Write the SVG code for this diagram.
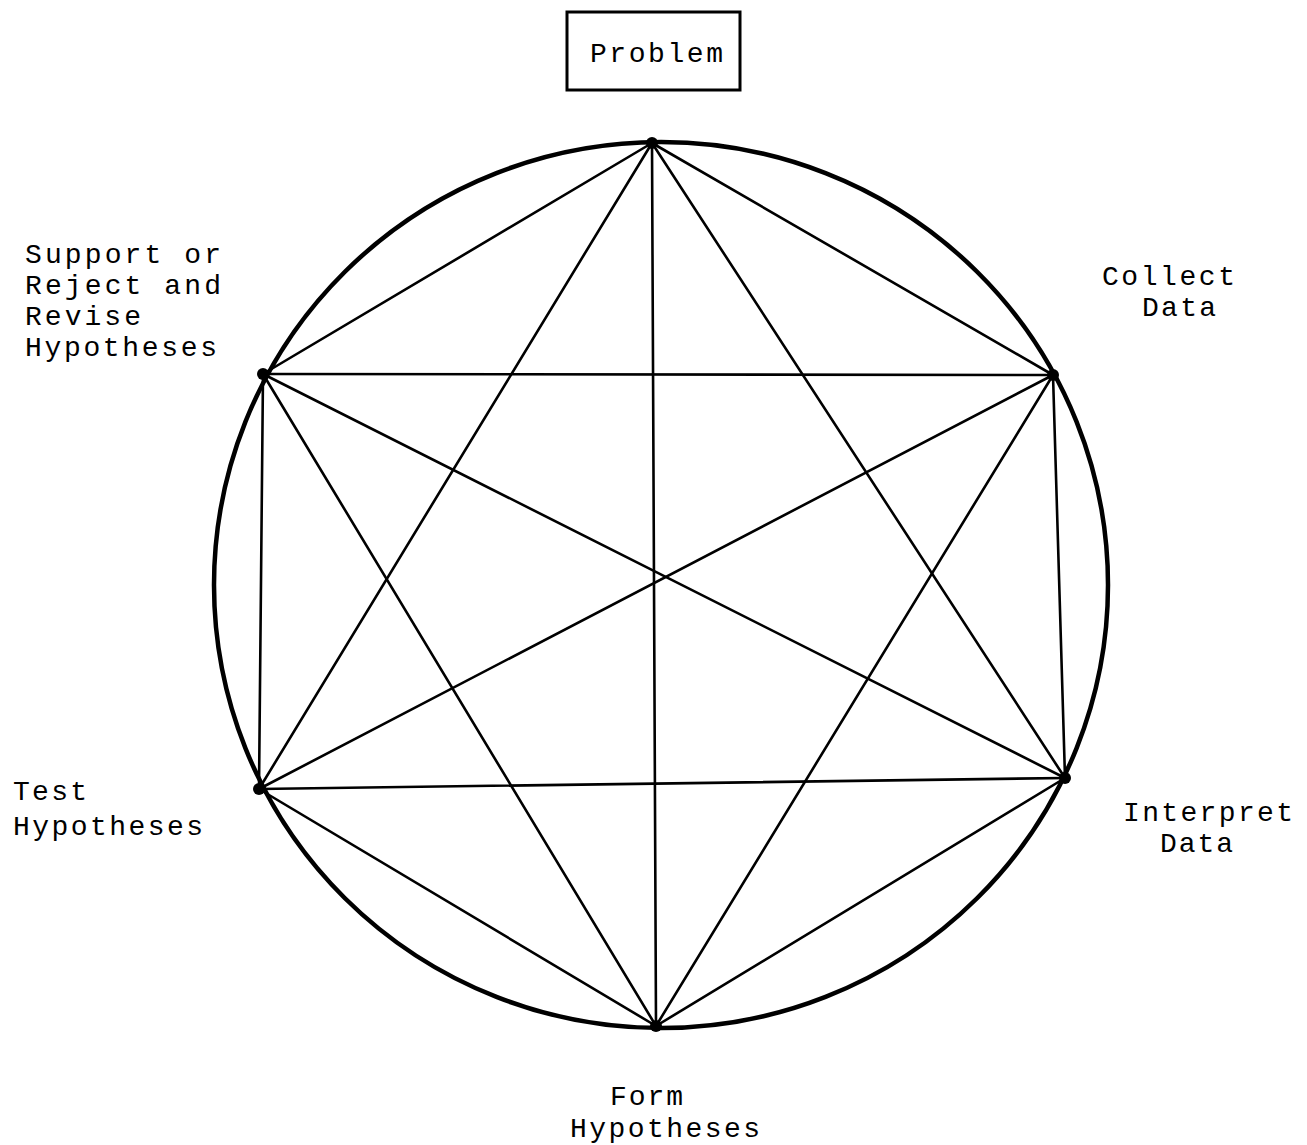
<svg xmlns="http://www.w3.org/2000/svg" width="1307" height="1145" viewBox="0 0 1307 1145">
<style>
text{font-family:"Liberation Mono","Courier New",monospace;font-size:28px;fill:#000}
.e{stroke:#000;stroke-width:2.6;fill:none;stroke-linecap:round}
.c{stroke:#000;stroke-width:4.5;fill:none}
.d{fill:#000}
</style>
<rect width="1307" height="1145" fill="#fff"/>
<g id="circle"><ellipse class="c" cx="661" cy="585" rx="447" ry="443"/></g>
<g id="connectors">
<line class="e" x1="652" y1="143" x2="1053" y2="375"/>
<line class="e" x1="652" y1="143" x2="1065" y2="778"/>
<line class="e" x1="652" y1="143" x2="656" y2="1026"/>
<line class="e" x1="652" y1="143" x2="259" y2="789"/>
<line class="e" x1="652" y1="143" x2="263" y2="374"/>
<line class="e" x1="1053" y1="375" x2="1065" y2="778"/>
<line class="e" x1="1053" y1="375" x2="656" y2="1026"/>
<line class="e" x1="1053" y1="375" x2="259" y2="789"/>
<line class="e" x1="1053" y1="375" x2="263" y2="374"/>
<line class="e" x1="1065" y1="778" x2="656" y2="1026"/>
<line class="e" x1="1065" y1="778" x2="259" y2="789"/>
<line class="e" x1="1065" y1="778" x2="263" y2="374"/>
<line class="e" x1="656" y1="1026" x2="259" y2="789"/>
<line class="e" x1="656" y1="1026" x2="263" y2="374"/>
<line class="e" x1="259" y1="789" x2="263" y2="374"/>
</g>
<g id="problem">
<rect x="567" y="12" width="173" height="78" fill="none" stroke="#000" stroke-width="3"/>
<text x="590" y="62" textLength="133">Problem</text>
<circle class="d" cx="652" cy="143" r="6"/>
</g>
<g id="collect-data">
<text x="1102" y="285" textLength="133">Collect</text>
<text x="1142" y="316" textLength="74">Data</text>
<circle class="d" cx="1053" cy="375" r="6"/>
</g>
<g id="interpret-data">
<text x="1123" y="821" textLength="170">Interpret</text>
<text x="1160" y="852" textLength="73">Data</text>
<circle class="d" cx="1065" cy="778" r="6"/>
</g>
<g id="form-hypotheses">
<text x="610" y="1105" textLength="73">Form</text>
<text x="570" y="1137" textLength="190">Hypotheses</text>
<circle class="d" cx="656" cy="1026" r="6"/>
</g>
<g id="test-hypotheses">
<text x="13" y="800" textLength="74">Test</text>
<text x="13" y="835" textLength="190">Hypotheses</text>
<circle class="d" cx="259" cy="789" r="6"/>
</g>
<g id="support-reject">
<text x="25" y="263" textLength="196">Support or</text>
<text x="25" y="294" textLength="196">Reject and</text>
<text x="25" y="325" textLength="116">Revise</text>
<text x="25" y="356" textLength="192">Hypotheses</text>
<circle class="d" cx="263" cy="374" r="6"/>
</g>
</svg>
